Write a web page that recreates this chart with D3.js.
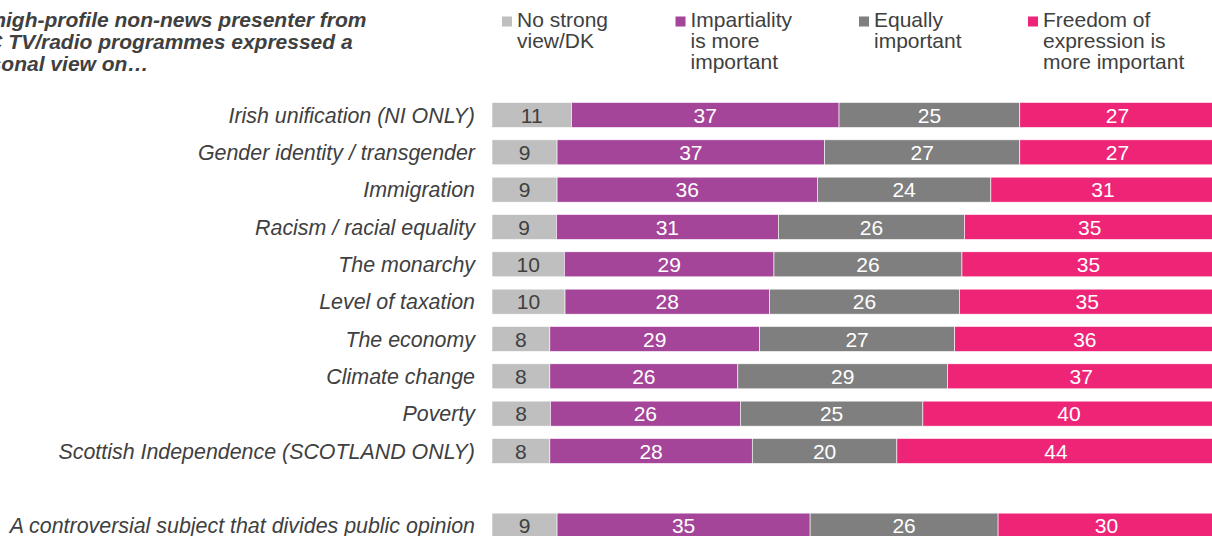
<!DOCTYPE html>
<html>
<head>
<meta charset="utf-8">
<script src="https://cdn.jsdelivr.net/npm/d3@7"></script>
<style>
  html, body { margin: 0; padding: 0; background: #fff; overflow: hidden; }
  svg { display: block; font-family: Arial, "Liberation Sans", sans-serif; }
</style>
</head>
<body>
<svg id="chart" width="1212" height="536"></svg>
<script>
// Topics asked about
const categories = [
  "Irish unification (NI ONLY)",
  "Gender identity / transgender",
  "Immigration",
  "Racism / racial equality",
  "The monarchy",
  "Level of taxation",
  "The economy",
  "Climate change",
  "Poverty",
  "Scottish Independence (SCOTLAND ONLY)",
  "A controversial subject that divides public opinion"
];

// Response shares (%) per topic, in category order
const noStrongView      = [11, 9, 9, 9, 10, 10, 8, 8, 8, 8, 9];
const impartialityMore  = [37, 37, 36, 31, 29, 28, 29, 26, 26, 28, 35];
const equallyImportant  = [25, 27, 24, 26, 26, 26, 27, 29, 25, 20, 26];
const freedomMore       = [27, 27, 31, 35, 35, 35, 36, 37, 40, 44, 30];

const seriesNames = [
  "No strong\nview/DK",
  "Impartiality\nis more\nimportant",
  "Equally\nimportant",
  "Freedom of\nexpression is\nmore important"
];

const titleLines = [
  "If a high-profile non-news presenter from",
  "BBC TV/radio programmes expressed a",
  "personal view on\u2026"
];

const keys = ["none", "impartial", "equal", "freedom"];
const colors = ["#bfbfbf", "#a44599", "#7f7f7f", "#ee2577"];
const labelColors = ["#404040", "#ffffff", "#ffffff", "#ffffff"];
const textColor = "#404040";

const rows = categories.map((c, i) => ({
  category: c,
  none: noStrongView[i],
  impartial: impartialityMore[i],
  equal: equallyImportant[i],
  freedom: freedomMore[i]
}));

const svg = d3.select("#chart");

// Row order with a blank slot before the overall question
const GAP = "__gap__";
const rowDomain = categories.slice(0, 10).concat([GAP], categories.slice(10));

const y = d3.scaleBand()
  .domain(rowDomain)
  .range([96.33, 96.33 + 12 * 37.33])
  .paddingInner(0.33)
  .paddingOuter(0.165);

const x = d3.scaleLinear().domain([0, 1]).range([492, 1215]);

const stack = d3.stack().keys(keys).offset(d3.stackOffsetExpand);
const stacked = stack(rows);

// Bars
const layers = svg.append("g").selectAll("g")
  .data(stacked)
  .join("g")
  .attr("fill", (d, i) => colors[i]);

layers.selectAll("rect")
  .data(d => d)
  .join("rect")
  .attr("x", d => x(d[0]))
  .attr("width", d => x(d[1]) - x(d[0]))
  .attr("y", d => y(d.data.category))
  .attr("height", y.bandwidth())
  .attr("stroke", "#ffffff")
  .attr("stroke-width", 0.6);

// Value labels inside segments
stacked.forEach((layer, li) => {
  svg.append("g").selectAll("text")
    .data(layer)
    .join("text")
    .attr("x", d => (x(d[0]) + x(d[1])) / 2)
    .attr("y", d => y(d.data.category) + y.bandwidth() / 2)
    .attr("dy", "0.36em")
    .attr("text-anchor", "middle")
    .attr("font-size", 21)
    .attr("fill", labelColors[li])
    .text(d => d.data[keys[li]]);
});

// Category axis labels
const yAxis = d3.axisLeft(y).tickSize(0).tickPadding(0)
  .tickFormat(d => d === GAP ? "" : d);
const axisG = svg.append("g")
  .attr("transform", "translate(475,0)")
  .call(yAxis);
axisG.select(".domain").remove();
axisG.selectAll("text")
  .attr("font-size", 21.4)
  .attr("font-style", "italic")
  .attr("font-family", "Arial, 'Liberation Sans', sans-serif")
  .attr("fill", textColor)
  .attr("dy", "0.36em");

// Title
svg.append("text")
  .attr("font-size", 21)
  .attr("font-weight", "bold")
  .attr("font-style", "italic")
  .attr("fill", textColor)
  .selectAll("tspan")
  .data(titleLines)
  .join("tspan")
  .attr("x", -43)
  .attr("y", (d, i) => 26.5 + i * 22)
  .text(d => d);

// Legend
const legendX = [502, 675.5, 859, 1028];
const legend = svg.append("g").selectAll("g")
  .data(seriesNames)
  .join("g")
  .attr("transform", (d, i) => `translate(${legendX[i]},0)`);

legend.append("rect")
  .attr("x", 0)
  .attr("y", 16.5)
  .attr("width", 10)
  .attr("height", 10)
  .attr("fill", (d, i) => colors[i]);

legend.append("text")
  .attr("font-size", 21)
  .attr("fill", textColor)
  .selectAll("tspan")
  .data(d => d.split("\n"))
  .join("tspan")
  .attr("x", 15)
  .attr("y", (d, i) => 26.5 + i * 21)
  .text(d => d);
</script>
</body>
</html>
